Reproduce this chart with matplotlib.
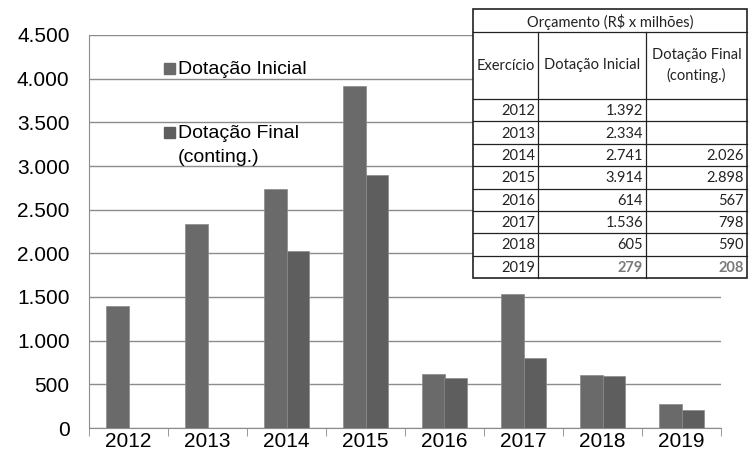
import matplotlib
matplotlib.use("Agg")
import numpy as np
from matplotlib import pyplot as plt
from matplotlib.patches import Rectangle

anos = ["2012", "2013", "2014", "2015", "2016", "2017", "2018", "2019"]
dot_inicial = [1392, 2334, 2741, 3914, 614, 1536, 605, 279]
dot_final = [None, None, 2026, 2898, 567, 798, 590, 208]
y_ticks = [0, 500, 1000, 1500, 2000, 2500, 3000, 3500, 4000, 4500]
cor_inicial = "#6a6a6a"
cor_final = "#5e5e5e"


def fmt(v):
    if v is None:
        return ""
    return f"{v:,}".replace(",", ".")


plt.rcParams["font.family"] = ["Liberation Sans", "DejaVu Sans"]

fig = plt.figure(figsize=(7.52, 4.59), dpi=100)
W, H = 752, 459
ax = fig.add_axes([89 / W, 1 - 428 / H, (721 - 89) / W, (428 - 35) / H])

x = np.arange(len(anos))
w = 0.28
fin = [np.nan if v is None else v for v in dot_final]
ax.bar(x - w / 2, dot_inicial, w, color=cor_inicial, edgecolor="#8a8a8a", linewidth=0.5, zorder=3)
ax.bar(x + w / 2, fin, w, color=cor_final, edgecolor="#8a8a8a", linewidth=0.5, zorder=3)

ax.set_xlim(-0.5, len(anos) - 0.5)
ax.set_ylim(0, 4500)
ax.set_yticks(y_ticks)
ax.set_yticklabels([fmt(v) for v in y_ticks], fontsize=15)
ax.set_xticks(x)
ax.set_xticklabels(anos, fontsize=15)
ax.set_xticks(np.arange(-0.5, len(anos)), minor=True)
ax.tick_params(axis="x", which="major", length=0, pad=3)
ax.tick_params(axis="x", which="minor", length=6, color="#888888")
ax.tick_params(axis="y", length=0, pad=14)
ax.yaxis.grid(True, color="#8c8c8c", linewidth=1)
ax.set_axisbelow(True)
for s in ["top", "right"]:
    ax.spines[s].set_visible(False)
ax.spines["left"].set_color("#8c8c8c")
ax.spines["bottom"].set_color("#8c8c8c")

# legenda
lg = fig.add_axes([0, 0, 1, 1], facecolor="none")
lg.set_xlim(0, W)
lg.set_ylim(H, 0)
lg.axis("off")
lg.add_patch(Rectangle((164, 63), 11, 11, color=cor_inicial))
lg.text(178, 69, "Dotação Inicial", fontsize=14, va="center")
lg.add_patch(Rectangle((164, 127), 11, 11, color=cor_final))
lg.text(178, 133, "Dotação Final", fontsize=14, va="center")
lg.text(178, 158, "(conting.)", fontsize=14, va="center")

# tabela
tf = ["Lato", "DejaVu Sans"]
fs = 10.5
cols = [473, 538, 646, 747]
top, h1, h2 = 9, 32, 99
rh = (278 - 99) / len(anos)
bottom = h2 + rh * len(anos)
lg.add_patch(Rectangle((cols[0], top), cols[-1] - cols[0], bottom - top,
                       facecolor="white", edgecolor="#222222", linewidth=1.2, zorder=5))
lc = dict(color="#222222", linewidth=0.9, zorder=6)
lg.plot([cols[0], cols[-1]], [h1, h1], **lc)
lg.plot([cols[0], cols[-1]], [h2, h2], **lc)
for i in range(1, len(anos)):
    yy = h2 + rh * i
    lg.plot([cols[0], cols[-1]], [yy, yy], **lc)
for cx in cols[1:-1]:
    lg.plot([cx, cx], [h1, bottom], **lc)
lg.text((cols[0] + cols[-1]) / 2, (top + h1) / 2 + 1, "Orçamento (R$ x milhões)",
        family=tf, fontsize=fs, ha="center", va="center", color="#222222", zorder=7)
lg.text((cols[0] + cols[1]) / 2, (h1 + h2) / 2, "Exercício", family=tf, fontsize=fs,
        ha="center", va="center", color="#222222", zorder=7)
lg.text((cols[1] + cols[2]) / 2, (h1 + h2) / 2, "Dotação Inicial", family=tf, fontsize=fs,
        ha="center", va="center", color="#222222", zorder=7)
lg.text((cols[2] + cols[3]) / 2, (h1 + h2) / 2, "Dotação Final\n(conting.)", family=tf,
        fontsize=fs, ha="center", va="center", color="#222222", linespacing=1.5, zorder=7)
for i, ano in enumerate(anos):
    yy = h2 + rh * (i + 0.5) + 1
    ultimo = i == len(anos) - 1
    cor = "#7a7a7a" if ultimo else "#222222"
    wt = "bold" if ultimo else "normal"
    lg.text(cols[1] - 3, yy, ano, family=tf, fontsize=fs, ha="right", va="center",
            color="#222222", zorder=7)
    lg.text(cols[2] - 3, yy, fmt(dot_inicial[i]), family=tf, fontsize=fs, ha="right",
            va="center", color=cor, fontweight=wt, zorder=7)
    lg.text(cols[3] - 3, yy, fmt(dot_final[i]), family=tf, fontsize=fs, ha="right",
            va="center", color=cor, fontweight=wt, zorder=7)

fig.savefig("out.png", dpi=100)
